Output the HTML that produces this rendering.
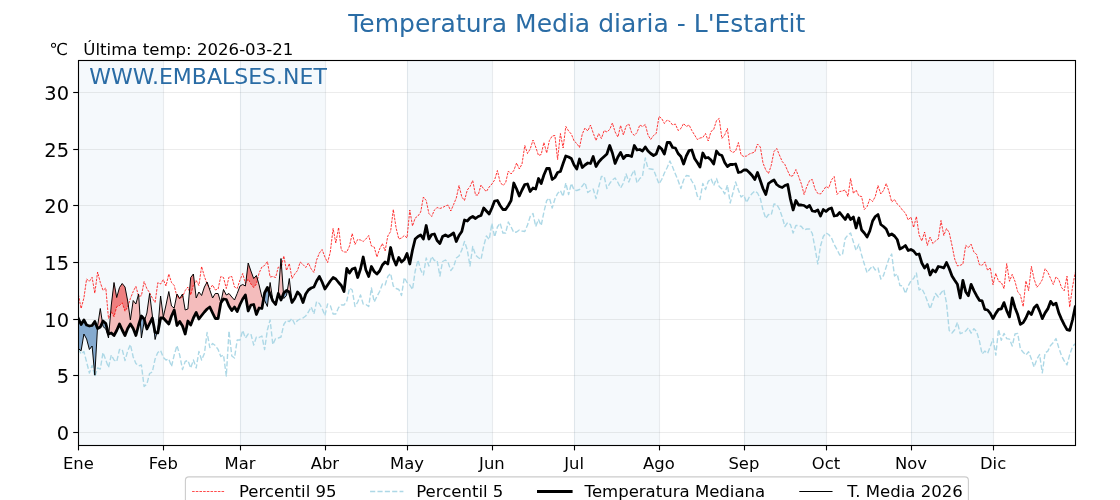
<!DOCTYPE html>
<html lang="es"><head><meta charset="utf-8"><title>Temperatura Media diaria - L'Estartit</title>
<style>html,body{margin:0;padding:0;background:#fff;}body{width:1120px;height:500px;overflow:hidden;}svg{display:block;}</style>
</head><body>
<svg width="1120" height="500" viewBox="0 0 1120 500" font-family="'DejaVu Sans', 'Liberation Sans', sans-serif">
<rect x="0" y="0" width="1120" height="500" fill="#ffffff"/>
<defs><clipPath id="ax"><rect x="78.4" y="60.0" width="996.8000000000001" height="385.0"/></clipPath></defs>
<g clip-path="url(#ax)">
<rect x="78.00" y="60.0" width="85.00" height="385.0" fill="#f5f9fc"/>
<rect x="240.00" y="60.0" width="85.00" height="385.0" fill="#f5f9fc"/>
<rect x="407.00" y="60.0" width="85.00" height="385.0" fill="#f5f9fc"/>
<rect x="574.00" y="60.0" width="85.00" height="385.0" fill="#f5f9fc"/>
<rect x="744.00" y="60.0" width="82.00" height="385.0" fill="#f5f9fc"/>
<rect x="911.00" y="60.0" width="82.00" height="385.0" fill="#f5f9fc"/>
<line x1="163.50" y1="60.0" x2="163.50" y2="445.0" stroke="rgba(110,130,150,0.16)" stroke-width="1.05"/>
<line x1="240.50" y1="60.0" x2="240.50" y2="445.0" stroke="rgba(110,130,150,0.16)" stroke-width="1.05"/>
<line x1="325.50" y1="60.0" x2="325.50" y2="445.0" stroke="rgba(110,130,150,0.16)" stroke-width="1.05"/>
<line x1="407.50" y1="60.0" x2="407.50" y2="445.0" stroke="rgba(110,130,150,0.16)" stroke-width="1.05"/>
<line x1="492.50" y1="60.0" x2="492.50" y2="445.0" stroke="rgba(110,130,150,0.16)" stroke-width="1.05"/>
<line x1="574.50" y1="60.0" x2="574.50" y2="445.0" stroke="rgba(110,130,150,0.16)" stroke-width="1.05"/>
<line x1="659.50" y1="60.0" x2="659.50" y2="445.0" stroke="rgba(110,130,150,0.16)" stroke-width="1.05"/>
<line x1="744.50" y1="60.0" x2="744.50" y2="445.0" stroke="rgba(110,130,150,0.16)" stroke-width="1.05"/>
<line x1="826.50" y1="60.0" x2="826.50" y2="445.0" stroke="rgba(110,130,150,0.16)" stroke-width="1.05"/>
<line x1="911.50" y1="60.0" x2="911.50" y2="445.0" stroke="rgba(110,130,150,0.16)" stroke-width="1.05"/>
<line x1="993.50" y1="60.0" x2="993.50" y2="445.0" stroke="rgba(110,130,150,0.16)" stroke-width="1.05"/>
<line x1="78.4" y1="432.50" x2="1075.2" y2="432.50" stroke="rgba(128,128,128,0.15)" stroke-width="1.05"/>
<line x1="78.4" y1="375.50" x2="1075.2" y2="375.50" stroke="rgba(128,128,128,0.15)" stroke-width="1.05"/>
<line x1="78.4" y1="319.50" x2="1075.2" y2="319.50" stroke="rgba(128,128,128,0.15)" stroke-width="1.05"/>
<line x1="78.4" y1="262.50" x2="1075.2" y2="262.50" stroke="rgba(128,128,128,0.15)" stroke-width="1.05"/>
<line x1="78.4" y1="205.50" x2="1075.2" y2="205.50" stroke="rgba(128,128,128,0.15)" stroke-width="1.05"/>
<line x1="78.4" y1="149.50" x2="1075.2" y2="149.50" stroke="rgba(128,128,128,0.15)" stroke-width="1.05"/>
<line x1="78.4" y1="92.50" x2="1075.2" y2="92.50" stroke="rgba(128,128,128,0.15)" stroke-width="1.05"/>
<polygon points="97.4,328.2 97.6,326.0 100.3,308.5 102.4,322.4 102.4,322.4 100.3,327.0 97.6,328.5 97.4,328.2" fill="#f4bcbc"/>
<polygon points="108.9,333.9 111.3,305.0 114.0,282.5 116.7,297.5 119.5,287.5 122.2,283.5 125.0,287.0 127.7,301.0 130.4,320.0 133.2,300.5 135.9,304.0 138.6,294.0 140.2,319.7 140.2,319.7 138.6,325.0 135.9,335.5 133.2,328.5 130.4,324.0 127.7,328.5 125.0,335.5 122.2,330.0 119.5,324.0 116.7,330.5 114.0,335.5 111.3,333.0 108.9,333.9" fill="#f4bcbc"/>
<polygon points="144.6,320.6 146.9,313.0 149.6,293.5 152.3,315.0 153.2,322.4 153.2,322.4 152.3,318.0 149.6,323.5 146.9,329.0 144.6,320.6" fill="#f4bcbc"/>
<polygon points="156.8,332.8 157.8,329.0 160.6,296.0 163.3,317.0 166.0,305.0 168.8,291.5 171.5,306.0 174.2,308.0 177.0,294.0 179.7,298.5 182.5,294.0 185.2,310.0 187.9,309.0 190.7,277.5 193.4,274.0 196.2,298.0 198.9,292.0 201.6,295.5 204.4,287.0 207.1,282.0 209.8,290.0 212.6,298.0 215.3,293.5 218.1,293.5 220.8,302.5 223.5,289.5 226.3,295.0 229.0,293.5 231.8,297.0 234.5,300.0 237.2,293.5 240.0,286.0 242.7,284.5 245.4,286.0 248.2,263.0 250.9,271.0 253.7,278.5 256.4,275.5 259.1,285.0 261.9,297.0 263.5,299.1 263.5,299.1 261.9,308.5 259.1,308.0 256.4,314.5 253.7,304.5 250.9,305.0 248.2,311.0 245.4,295.0 242.7,299.0 240.0,304.5 237.2,311.5 234.5,307.0 231.8,310.5 229.0,306.0 226.3,299.5 223.5,299.0 220.8,303.0 218.1,318.5 215.3,318.5 212.6,313.0 209.8,307.0 207.1,309.0 204.4,312.0 201.6,315.5 198.9,319.0 196.2,312.5 193.4,318.0 190.7,325.0 187.9,321.0 185.2,334.0 182.5,326.0 179.7,321.5 177.0,325.5 174.2,310.0 171.5,316.0 168.8,324.0 166.0,321.0 163.3,318.0 160.6,318.0 157.8,333.0 156.8,332.8" fill="#f4bcbc"/>
<polygon points="269.1,291.5 270.1,282.5 272.8,300.0 275.6,304.0 278.3,293.0 281.0,258.5 283.5,293.8 283.5,293.8 281.0,300.0 278.3,293.5 275.6,304.5 272.8,301.0 270.1,294.0 269.1,291.5" fill="#f4bcbc"/>
<polygon points="287.3,290.9 289.3,278.5 292.0,302.0 294.7,298.0 294.7,298.5 292.0,302.5 289.3,292.0 287.3,290.9" fill="#f4bcbc"/>
<polygon points="110.6,313.4 111.3,305.0 114.0,282.5 116.7,297.5 119.5,287.5 122.2,283.5 125.0,287.0 127.7,301.0 128.3,305.1 128.3,305.1 127.7,307.0 125.0,311.2 122.2,302.8 119.5,305.5 116.7,306.7 114.0,316.7 111.3,311.7 110.6,313.4" fill="#ee7f7f"/>
<polygon points="138.3,295.1 138.6,294.0 138.8,296.3 138.8,296.3 138.6,296.3 138.3,295.1" fill="#ee7f7f"/>
<polygon points="176.7,295.6 177.0,294.0 179.7,298.5 179.7,298.5 177.0,297.0 176.7,295.6" fill="#ee7f7f"/>
<polygon points="179.7,298.5 182.5,294.0 182.8,296.1 182.8,296.1 182.5,297.0 179.7,298.5" fill="#ee7f7f"/>
<polygon points="189.5,291.5 190.7,277.5 193.4,274.0 194.5,283.3 194.5,283.3 193.4,285.0 190.7,295.0 189.5,291.5" fill="#ee7f7f"/>
<polygon points="206.7,282.8 207.1,282.0 208.9,287.3 208.9,287.3 207.1,284.0 206.7,282.8" fill="#ee7f7f"/>
<polygon points="245.8,282.9 248.2,263.0 250.9,271.0 253.7,278.5 256.4,275.5 257.5,279.4 257.5,279.4 256.4,284.0 253.7,287.5 250.9,284.0 248.2,279.0 245.8,282.9" fill="#ee7f7f"/>
<polygon points="280.3,268.1 281.0,258.5 281.6,266.1 281.6,266.1 281.0,268.5 280.3,268.1" fill="#ee7f7f"/>
<polygon points="78.4,348.5 81.1,350.8 83.9,334.0 86.6,339.0 89.4,349.5 92.1,346.0 94.8,375.2 97.4,328.2 97.4,328.2 94.8,321.5 92.1,325.5 89.4,326.0 86.6,325.0 83.9,320.0 81.1,324.5 78.4,318.5" fill="#85aacf"/>
<polygon points="102.4,322.4 103.0,326.5 105.8,329.0 108.5,338.0 108.9,333.9 108.9,333.9 108.5,334.0 105.8,323.5 103.0,321.0 102.4,322.4" fill="#85aacf"/>
<polygon points="140.2,319.7 141.4,338.0 144.1,322.0 144.6,320.6 144.6,320.6 144.1,319.0 141.4,316.0 140.2,319.7" fill="#85aacf"/>
<polygon points="153.2,322.4 155.1,339.5 156.8,332.8 156.8,332.8 155.1,332.5 153.2,322.4" fill="#85aacf"/>
<polygon points="263.5,299.1 264.6,300.5 267.4,306.5 269.1,291.5 269.1,291.5 267.4,287.5 264.6,293.0 263.5,299.1" fill="#85aacf"/>
<polygon points="283.5,293.8 283.8,298.5 286.5,295.5 287.3,290.9 287.3,290.9 286.5,290.5 283.8,293.0 283.5,293.8" fill="#85aacf"/>

<polyline points="78.4,294.5 81.1,308.5 83.9,298.0 86.6,279.0 89.4,281.3 92.1,277.3 94.8,293.2 97.6,272.0 100.3,282.5 103.0,290.3 105.8,288.0 108.5,318.5 111.3,311.7 114.0,316.7 116.7,306.7 119.5,305.5 122.2,302.8 125.0,311.2 127.7,307.0 130.4,298.5 133.2,291.5 135.9,286.3 138.6,296.3 141.4,295.8 144.1,281.6 146.9,288.7 149.6,292.7 152.3,298.0 155.1,302.5 157.8,282.7 160.6,284.0 163.3,279.6 166.0,286.0 168.8,274.0 171.5,282.5 174.2,285.5 177.0,297.0 179.7,298.5 182.5,297.0 185.2,290.5 187.9,287.0 190.7,295.0 193.4,285.0 196.2,280.5 198.9,285.5 201.6,266.5 204.4,276.5 207.1,284.0 209.8,289.0 212.6,285.0 215.3,290.0 218.1,289.0 220.8,276.5 223.5,277.5 226.3,288.5 229.0,277.0 231.8,276.5 234.5,287.0 237.2,288.5 240.0,280.0 242.7,273.5 245.4,283.5 248.2,279.0 250.9,284.0 253.7,287.5 256.4,284.0 259.1,273.0 261.9,267.0 264.6,265.5 267.4,261.5 270.1,277.0 272.8,276.5 275.6,277.5 278.3,267.0 281.0,268.5 283.8,256.0 286.5,270.5 289.3,263.5 292.0,278.5 294.7,274.0 297.5,270.5 300.2,262.0 303.0,264.5 305.7,267.5 308.4,263.0 311.2,269.0 313.9,272.5 316.6,260.0 319.4,253.0 322.1,249.5 324.9,257.0 327.6,262.5 330.3,252.0 333.1,228.5 335.8,243.0 338.6,227.5 341.3,250.0 344.0,252.0 346.8,252.0 349.5,246.0 352.2,233.5 355.0,244.5 357.7,239.5 360.5,240.0 363.2,241.5 365.9,239.0 368.7,235.5 371.4,246.0 374.2,247.0 376.9,257.0 379.6,249.0 382.4,243.5 385.1,251.0 387.8,236.0 390.6,231.5 393.3,209.5 396.1,228.0 398.8,239.0 401.5,238.0 404.3,235.5 407.0,238.0 409.8,210.0 412.5,226.0 415.2,218.0 418.0,216.0 420.7,212.0 423.4,197.0 426.2,200.5 428.9,213.5 431.7,216.5 434.4,210.0 437.1,207.5 439.9,208.5 442.6,207.5 445.4,206.0 448.1,205.0 450.8,211.0 453.6,204.5 456.3,198.0 459.0,185.5 461.8,197.0 464.5,200.5 467.3,190.0 470.0,186.5 472.7,180.5 475.5,195.0 478.2,195.0 481.0,185.0 483.7,189.0 486.4,191.5 489.2,187.0 491.9,184.0 494.6,180.0 497.4,170.5 500.1,182.0 502.9,185.5 505.6,183.0 508.3,171.0 511.1,174.0 513.8,170.5 516.6,163.0 519.3,169.0 522.0,164.0 524.8,145.5 527.5,153.5 530.2,149.0 533.0,140.0 535.7,147.0 538.5,155.5 541.2,154.5 543.9,142.5 546.7,153.0 549.4,140.5 552.2,136.0 554.9,135.5 557.6,159.5 560.4,133.5 563.1,148.0 565.8,126.5 568.6,131.0 571.3,134.0 574.1,141.0 576.8,143.5 579.5,147.5 582.3,134.0 585.0,128.0 587.8,131.0 590.5,125.0 593.2,133.0 596.0,140.5 598.7,133.5 601.4,138.5 604.2,130.5 606.9,132.0 609.7,129.5 612.4,123.0 615.1,132.0 617.9,137.0 620.6,125.5 623.4,135.0 626.1,126.0 628.8,124.0 631.6,132.5 634.3,135.5 637.0,132.5 639.8,125.0 642.5,126.5 645.3,124.5 648.0,135.0 650.7,139.5 653.5,135.5 656.2,133.5 659.0,116.5 661.7,118.5 664.4,123.5 667.2,120.0 669.9,121.5 672.6,125.0 675.4,124.0 678.1,130.5 680.9,128.5 683.6,123.5 686.3,126.5 689.1,125.0 691.8,130.5 694.6,135.0 697.3,139.5 700.0,138.0 702.8,137.5 705.5,133.5 708.2,141.0 711.0,131.5 713.7,129.5 716.5,120.5 719.2,118.5 721.9,138.5 724.7,135.0 727.4,128.5 730.2,150.5 732.9,152.5 735.6,151.0 738.4,142.5 741.1,155.0 743.8,156.5 746.6,156.0 749.3,154.0 752.1,153.0 754.8,152.0 757.5,144.0 760.3,147.0 763.0,163.0 765.8,170.0 768.5,173.5 771.2,165.5 774.0,151.5 776.7,148.5 779.4,155.0 782.2,161.5 784.9,164.5 787.7,171.0 790.4,176.5 793.1,175.5 795.9,169.5 798.6,176.5 801.4,184.0 804.1,194.5 806.8,186.5 809.6,180.5 812.3,179.5 815.0,189.0 817.8,193.5 820.5,194.0 823.3,190.5 826.0,186.5 828.7,188.0 831.5,180.0 834.2,176.5 837.0,194.5 839.7,191.5 842.4,191.0 845.2,190.0 847.9,196.5 850.6,178.5 853.4,193.5 856.1,190.0 858.9,196.0 861.6,196.5 864.3,209.5 867.1,206.5 869.8,199.0 872.6,201.5 875.3,196.5 878.0,185.5 880.8,194.0 883.5,190.5 886.2,183.5 889.0,191.5 891.7,202.0 894.5,199.5 897.2,204.0 899.9,206.5 902.7,210.5 905.4,213.0 908.2,220.0 910.9,217.0 913.6,227.5 916.4,216.5 919.1,235.0 921.8,241.0 924.6,232.0 927.3,245.5 930.1,237.0 932.8,243.5 935.5,241.0 938.3,239.0 941.0,220.5 943.8,235.5 946.5,228.5 949.2,232.5 952.0,245.5 954.7,259.0 957.4,265.9 960.2,265.3 962.9,264.1 965.7,245.3 968.4,247.6 971.1,244.1 973.9,252.1 976.6,254.4 979.4,264.7 982.1,265.3 984.8,261.9 987.6,270.4 990.3,267.6 993.0,284.7 995.8,273.3 998.5,281.3 1001.3,282.4 1004.0,288.7 1006.7,263.6 1009.5,281.3 1012.2,274.4 1015.0,281.4 1017.7,291.7 1020.4,295.1 1023.2,306.6 1025.9,280.9 1028.6,290.6 1031.4,266.4 1034.1,279.1 1036.9,287.3 1039.6,284.2 1042.3,279.7 1045.1,268.7 1047.8,272.1 1050.6,278.5 1053.3,284.5 1056.0,276.8 1058.8,279.7 1061.5,287.4 1064.2,290.8 1067.0,276.2 1069.7,307.1 1072.5,287.1 1075.2,272.5" fill="none" stroke="#ff0000" stroke-width="0.78" stroke-dasharray="2.57 1.11" stroke-linejoin="round"/>
<polyline points="78.4,349.0 81.1,354.0 83.9,351.5 86.6,362.0 89.4,373.0 92.1,365.5 94.8,376.5 97.6,368.0 100.3,369.0 103.0,352.5 105.8,360.0 108.5,367.5 111.3,355.0 114.0,360.0 116.7,361.5 119.5,349.5 122.2,349.5 125.0,360.5 127.7,351.0 130.4,344.5 133.2,357.0 135.9,363.5 138.6,366.0 141.4,365.0 144.1,386.5 146.9,384.0 149.6,373.5 152.3,372.0 155.1,359.0 157.8,352.5 160.6,350.5 163.3,357.5 166.0,360.0 168.8,359.0 171.5,366.5 174.2,355.0 177.0,345.5 179.7,355.0 182.5,369.5 185.2,361.5 187.9,360.5 190.7,368.0 193.4,360.0 196.2,368.0 198.9,351.5 201.6,360.0 204.4,353.5 207.1,332.5 209.8,347.5 212.6,343.5 215.3,345.5 218.1,349.5 220.8,356.5 223.5,355.0 226.3,376.0 229.0,331.0 231.8,356.0 234.5,358.0 237.2,340.0 240.0,340.0 242.7,330.5 245.4,338.0 248.2,334.0 250.9,334.0 253.7,345.0 256.4,337.0 259.1,337.5 261.9,336.0 264.6,349.5 267.4,330.0 270.1,320.0 272.8,344.5 275.6,338.5 278.3,338.0 281.0,337.0 283.8,324.5 286.5,320.5 289.3,321.5 292.0,318.5 294.7,324.0 297.5,320.5 300.2,319.0 303.0,318.0 305.7,316.0 308.4,312.0 311.2,307.0 313.9,314.0 316.6,301.5 319.4,303.5 322.1,308.5 324.9,315.5 327.6,304.0 330.3,305.5 333.1,314.0 335.8,314.0 338.6,307.5 341.3,305.0 344.0,305.0 346.8,301.0 349.5,288.0 352.2,290.0 355.0,306.5 357.7,302.0 360.5,295.0 363.2,304.0 365.9,304.5 368.7,306.5 371.4,288.0 374.2,302.0 376.9,296.5 379.6,291.5 382.4,284.0 385.1,285.0 387.8,276.5 390.6,273.5 393.3,286.0 396.1,288.5 398.8,289.5 401.5,295.5 404.3,277.5 407.0,282.5 409.8,285.0 412.5,289.5 415.2,271.0 418.0,260.0 420.7,270.0 423.4,275.0 426.2,258.0 428.9,266.0 431.7,256.5 434.4,260.5 437.1,260.5 439.9,276.0 442.6,261.5 445.4,260.0 448.1,262.5 450.8,270.5 453.6,267.0 456.3,258.0 459.0,256.0 461.8,250.0 464.5,241.5 467.3,250.0 470.0,266.0 472.7,246.5 475.5,255.0 478.2,257.5 481.0,259.5 483.7,246.0 486.4,236.0 489.2,239.5 491.9,223.5 494.6,237.0 497.4,227.0 500.1,223.0 502.9,233.0 505.6,233.0 508.3,222.0 511.1,227.0 513.8,232.5 516.6,232.0 519.3,230.0 522.0,231.0 524.8,231.5 527.5,225.0 530.2,216.5 533.0,213.5 535.7,226.5 538.5,219.5 541.2,225.5 543.9,212.0 546.7,200.5 549.4,198.0 552.2,208.0 554.9,199.0 557.6,193.5 560.4,190.5 563.1,196.5 565.8,183.0 568.6,194.5 571.3,183.5 574.1,190.0 576.8,190.5 579.5,189.5 582.3,186.0 585.0,182.5 587.8,192.5 590.5,190.5 593.2,189.0 596.0,198.5 598.7,187.0 601.4,176.5 604.2,176.5 606.9,188.5 609.7,183.5 612.4,180.0 615.1,178.0 617.9,182.5 620.6,188.0 623.4,183.0 626.1,174.0 628.8,182.0 631.6,175.0 634.3,170.0 637.0,183.0 639.8,178.5 642.5,176.0 645.3,158.0 648.0,168.5 650.7,169.0 653.5,169.5 656.2,176.5 659.0,184.0 661.7,179.5 664.4,173.0 667.2,167.5 669.9,161.0 672.6,167.0 675.4,174.0 678.1,180.5 680.9,188.5 683.6,180.0 686.3,175.5 689.1,176.0 691.8,181.0 694.6,185.5 697.3,196.0 700.0,199.5 702.8,183.5 705.5,189.5 708.2,181.5 711.0,178.5 713.7,185.5 716.5,178.5 719.2,186.5 721.9,189.0 724.7,194.0 727.4,185.0 730.2,203.0 732.9,193.0 735.6,182.0 738.4,190.0 741.1,197.0 743.8,195.0 746.6,202.5 749.3,197.0 752.1,193.5 754.8,191.0 757.5,193.0 760.3,198.5 763.0,210.0 765.8,218.5 768.5,214.5 771.2,215.0 774.0,204.0 776.7,204.5 779.4,209.0 782.2,217.0 784.9,226.5 787.7,222.5 790.4,224.5 793.1,233.0 795.9,225.5 798.6,225.5 801.4,226.5 804.1,230.0 806.8,229.0 809.6,229.0 812.3,233.5 815.0,248.0 817.8,264.0 820.5,246.0 823.3,236.5 826.0,233.0 828.7,234.5 831.5,238.0 834.2,244.5 837.0,249.5 839.7,255.0 842.4,255.0 845.2,238.5 847.9,235.0 850.6,233.0 853.4,242.0 856.1,250.5 858.9,244.2 861.6,255.0 864.3,264.0 867.1,272.8 869.8,269.0 872.6,266.0 875.3,270.0 878.0,268.0 880.8,279.0 883.5,275.5 886.2,267.0 889.0,258.5 891.7,254.0 894.5,276.0 897.2,274.0 899.9,285.5 902.7,286.0 905.4,293.5 908.2,286.0 910.9,281.0 913.6,278.5 916.4,273.0 919.1,290.0 921.8,288.5 924.6,294.0 927.3,301.0 930.1,309.0 932.8,301.0 935.5,293.5 938.3,297.0 941.0,293.0 943.8,289.5 946.5,303.0 949.2,330.5 952.0,333.0 954.7,329.7 957.4,322.3 960.2,333.7 962.9,332.7 965.7,331.0 968.4,327.8 971.1,333.2 973.9,328.7 976.6,331.6 979.4,340.9 982.1,354.0 984.8,351.1 987.6,353.4 990.3,346.6 993.0,338.6 995.8,355.1 998.5,329.4 1001.3,340.3 1004.0,333.4 1006.7,338.6 1009.5,339.1 1012.2,346.0 1015.0,334.0 1017.7,333.4 1020.4,348.9 1023.2,352.3 1025.9,355.1 1028.6,351.7 1031.4,359.1 1034.1,367.1 1036.9,359.1 1039.6,354.6 1042.3,372.9 1045.1,352.9 1047.8,351.1 1050.6,345.4 1053.3,342.6 1056.0,338.6 1058.8,347.7 1061.5,355.7 1064.2,360.9 1067.0,364.9 1069.7,354.6 1072.5,346.6 1075.2,343.7" fill="none" stroke="#add8e6" stroke-width="1.39" stroke-dasharray="5.14 2.22" stroke-linejoin="round"/>
<polyline points="78.4,318.5 81.1,324.5 83.9,320.0 86.6,325.0 89.4,326.0 92.1,325.5 94.8,321.5 97.6,328.5 100.3,327.0 103.0,321.0 105.8,323.5 108.5,334.0 111.3,333.0 114.0,335.5 116.7,330.5 119.5,324.0 122.2,330.0 125.0,335.5 127.7,328.5 130.4,324.0 133.2,328.5 135.9,335.5 138.6,325.0 141.4,316.0 144.1,319.0 146.9,329.0 149.6,323.5 152.3,318.0 155.1,332.5 157.8,333.0 160.6,318.0 163.3,318.0 166.0,321.0 168.8,324.0 171.5,316.0 174.2,310.0 177.0,325.5 179.7,321.5 182.5,326.0 185.2,334.0 187.9,321.0 190.7,325.0 193.4,318.0 196.2,312.5 198.9,319.0 201.6,315.5 204.4,312.0 207.1,309.0 209.8,307.0 212.6,313.0 215.3,318.5 218.1,318.5 220.8,303.0 223.5,299.0 226.3,299.5 229.0,306.0 231.8,310.5 234.5,307.0 237.2,311.5 240.0,304.5 242.7,299.0 245.4,295.0 248.2,311.0 250.9,305.0 253.7,304.5 256.4,314.5 259.1,308.0 261.9,308.5 264.6,293.0 267.4,287.5 270.1,294.0 272.8,301.0 275.6,304.5 278.3,293.5 281.0,300.0 283.8,293.0 286.5,290.5 289.3,292.0 292.0,302.5 294.7,298.5 297.5,292.0 300.2,295.0 303.0,302.5 305.7,294.0 308.4,290.0 311.2,288.0 313.9,287.0 316.6,281.0 319.4,276.5 322.1,282.0 324.9,289.0 327.6,285.0 330.3,281.0 333.1,277.5 335.8,279.0 338.6,282.5 341.3,285.5 344.0,291.5 346.8,268.5 349.5,273.0 352.2,269.0 355.0,268.0 357.7,277.5 360.5,269.0 363.2,257.0 365.9,270.0 368.7,276.5 371.4,266.5 374.2,271.5 376.9,274.0 379.6,271.0 382.4,265.0 385.1,262.0 387.8,264.0 390.6,247.5 393.3,258.5 396.1,265.0 398.8,257.5 401.5,262.0 404.3,259.5 407.0,253.5 409.8,264.0 412.5,250.0 415.2,239.0 418.0,236.5 420.7,235.0 423.4,239.0 426.2,225.5 428.9,239.0 431.7,234.5 434.4,234.0 437.1,240.5 439.9,243.5 442.6,236.5 445.4,235.0 448.1,236.5 450.8,235.0 453.6,233.0 456.3,241.5 459.0,235.5 461.8,231.5 464.5,220.0 467.3,221.0 470.0,218.0 472.7,216.5 475.5,218.5 478.2,216.5 481.0,215.5 483.7,208.0 486.4,211.0 489.2,214.0 491.9,208.0 494.6,201.0 497.4,200.5 500.1,205.5 502.9,209.5 505.6,209.5 508.3,205.5 511.1,200.5 513.8,183.0 516.6,189.0 519.3,196.0 522.0,190.0 524.8,184.5 527.5,184.0 530.2,191.5 533.0,188.0 535.7,189.0 538.5,178.5 541.2,183.5 543.9,175.0 546.7,168.5 549.4,168.5 552.2,179.5 554.9,177.5 557.6,172.5 560.4,171.5 563.1,163.5 565.8,156.0 568.6,157.0 571.3,158.5 574.1,165.0 576.8,169.0 579.5,159.0 582.3,167.5 585.0,165.0 587.8,163.0 590.5,163.5 593.2,156.5 596.0,166.5 598.7,162.0 601.4,159.0 604.2,156.5 606.9,154.0 609.7,145.5 612.4,153.0 615.1,163.5 617.9,157.0 620.6,152.5 623.4,158.5 626.1,155.5 628.8,155.5 631.6,156.5 634.3,145.5 637.0,150.0 639.8,149.5 642.5,151.0 645.3,147.0 648.0,151.0 650.7,153.5 653.5,155.5 656.2,154.0 659.0,146.5 661.7,149.0 664.4,154.0 667.2,142.5 669.9,142.5 672.6,147.5 675.4,148.0 678.1,153.5 680.9,156.5 683.6,164.0 686.3,156.0 689.1,150.5 691.8,150.0 694.6,158.5 697.3,162.5 700.0,167.0 702.8,153.0 705.5,158.0 708.2,157.5 711.0,160.0 713.7,164.0 716.5,151.0 719.2,154.5 721.9,155.5 724.7,162.5 727.4,166.5 730.2,164.5 732.9,164.5 735.6,164.0 738.4,172.5 741.1,172.0 743.8,170.0 746.6,170.0 749.3,172.5 752.1,175.5 754.8,179.5 757.5,172.5 760.3,180.5 763.0,188.5 765.8,194.5 768.5,183.5 771.2,181.5 774.0,180.0 776.7,184.5 779.4,186.5 782.2,187.5 784.9,185.5 787.7,184.5 790.4,199.0 793.1,210.0 795.9,200.5 798.6,205.0 801.4,205.0 804.1,205.5 806.8,207.5 809.6,205.5 812.3,211.0 815.0,211.5 817.8,210.0 820.5,216.0 823.3,209.5 826.0,211.5 828.7,209.0 831.5,208.0 834.2,216.0 837.0,215.5 839.7,212.5 842.4,216.0 845.2,219.5 847.9,214.5 850.6,219.5 853.4,217.0 856.1,228.0 858.9,218.0 861.6,230.0 864.3,233.0 867.1,237.0 869.8,231.0 872.6,221.0 875.3,216.5 878.0,214.5 880.8,224.5 883.5,226.5 886.2,229.0 889.0,235.5 891.7,234.0 894.5,236.0 897.2,239.5 899.9,249.0 902.7,247.5 905.4,245.5 908.2,250.5 910.9,249.5 913.6,251.0 916.4,254.5 919.1,254.0 921.8,263.0 924.6,268.0 927.3,264.5 930.1,275.0 932.8,270.0 935.5,272.0 938.3,266.5 941.0,267.0 943.8,268.0 946.5,262.5 949.2,268.5 952.0,276.0 954.7,280.3 957.4,284.3 960.2,298.0 962.9,280.3 965.7,291.7 968.4,295.7 971.1,284.3 973.9,290.6 976.6,295.7 979.4,300.3 982.1,300.9 984.8,309.4 987.6,310.0 990.3,313.4 993.0,318.6 995.8,313.4 998.5,309.4 1001.3,308.9 1004.0,302.6 1006.7,310.6 1009.5,316.9 1012.2,298.0 1015.0,307.7 1017.7,314.6 1020.4,324.3 1023.2,322.6 1025.9,318.0 1028.6,311.7 1031.4,314.6 1034.1,307.7 1036.9,304.9 1039.6,311.1 1042.3,318.6 1045.1,312.9 1047.8,308.9 1050.6,301.4 1053.3,304.9 1056.0,303.1 1058.8,312.9 1061.5,319.1 1064.2,324.6 1067.0,329.6 1069.7,330.4 1072.5,320.0 1075.2,307.0" fill="none" stroke="#000000" stroke-width="2.78" stroke-linejoin="round" stroke-linecap="square"/>
<polyline points="78.4,348.5 81.1,350.8 83.9,334.0 86.6,339.0 89.4,349.5 92.1,346.0 94.8,375.2 97.6,326.0 100.3,308.5 103.0,326.5 105.8,329.0 108.5,338.0 111.3,305.0 114.0,282.5 116.7,297.5 119.5,287.5 122.2,283.5 125.0,287.0 127.7,301.0 130.4,320.0 133.2,300.5 135.9,304.0 138.6,294.0 141.4,338.0 144.1,322.0 146.9,313.0 149.6,293.5 152.3,315.0 155.1,339.5 157.8,329.0 160.6,296.0 163.3,317.0 166.0,305.0 168.8,291.5 171.5,306.0 174.2,308.0 177.0,294.0 179.7,298.5 182.5,294.0 185.2,310.0 187.9,309.0 190.7,277.5 193.4,274.0 196.2,298.0 198.9,292.0 201.6,295.5 204.4,287.0 207.1,282.0 209.8,290.0 212.6,298.0 215.3,293.5 218.1,293.5 220.8,302.5 223.5,289.5 226.3,295.0 229.0,293.5 231.8,297.0 234.5,300.0 237.2,293.5 240.0,286.0 242.7,284.5 245.4,286.0 248.2,263.0 250.9,271.0 253.7,278.5 256.4,275.5 259.1,285.0 261.9,297.0 264.6,300.5 267.4,306.5 270.1,282.5 272.8,300.0 275.6,304.0 278.3,293.0 281.0,258.5 283.8,298.5 286.5,295.5 289.3,278.5 292.0,302.0 294.7,298.0" fill="none" stroke="#000000" stroke-width="0.98" stroke-linejoin="round"/>
</g>
<rect x="78.5" y="60.5" width="997.0" height="385.0" fill="none" stroke="#000" stroke-width="1.11"/>
<line x1="78.50" y1="445.5" x2="78.50" y2="450.4" stroke="#000" stroke-width="1.11"/>
<text x="78.40" y="468.6" font-size="16.4" text-anchor="middle" fill="#000">Ene</text>
<line x1="163.50" y1="445.5" x2="163.50" y2="450.4" stroke="#000" stroke-width="1.11"/>
<text x="163.29" y="468.6" font-size="16.4" text-anchor="middle" fill="#000">Feb</text>
<line x1="240.50" y1="445.5" x2="240.50" y2="450.4" stroke="#000" stroke-width="1.11"/>
<text x="239.97" y="468.6" font-size="16.4" text-anchor="middle" fill="#000">Mar</text>
<line x1="325.50" y1="445.5" x2="325.50" y2="450.4" stroke="#000" stroke-width="1.11"/>
<text x="324.86" y="468.6" font-size="16.4" text-anchor="middle" fill="#000">Abr</text>
<line x1="407.50" y1="445.5" x2="407.50" y2="450.4" stroke="#000" stroke-width="1.11"/>
<text x="407.02" y="468.6" font-size="16.4" text-anchor="middle" fill="#000">May</text>
<line x1="492.50" y1="445.5" x2="492.50" y2="450.4" stroke="#000" stroke-width="1.11"/>
<text x="491.91" y="468.6" font-size="16.4" text-anchor="middle" fill="#000">Jun</text>
<line x1="574.50" y1="445.5" x2="574.50" y2="450.4" stroke="#000" stroke-width="1.11"/>
<text x="574.06" y="468.6" font-size="16.4" text-anchor="middle" fill="#000">Jul</text>
<line x1="659.50" y1="445.5" x2="659.50" y2="450.4" stroke="#000" stroke-width="1.11"/>
<text x="658.95" y="468.6" font-size="16.4" text-anchor="middle" fill="#000">Ago</text>
<line x1="744.50" y1="445.5" x2="744.50" y2="450.4" stroke="#000" stroke-width="1.11"/>
<text x="743.85" y="468.6" font-size="16.4" text-anchor="middle" fill="#000">Sep</text>
<line x1="826.50" y1="445.5" x2="826.50" y2="450.4" stroke="#000" stroke-width="1.11"/>
<text x="826.00" y="468.6" font-size="16.4" text-anchor="middle" fill="#000">Oct</text>
<line x1="911.50" y1="445.5" x2="911.50" y2="450.4" stroke="#000" stroke-width="1.11"/>
<text x="910.89" y="468.6" font-size="16.4" text-anchor="middle" fill="#000">Nov</text>
<line x1="993.50" y1="445.5" x2="993.50" y2="450.4" stroke="#000" stroke-width="1.11"/>
<text x="993.05" y="468.6" font-size="16.4" text-anchor="middle" fill="#000">Dic</text>
<line x1="73.20" y1="432.50" x2="78.9" y2="432.50" stroke="#000" stroke-width="1.11"/>
<text x="69.10" y="439.80" font-size="19.44" text-anchor="end" fill="#000">0</text>
<line x1="73.20" y1="375.50" x2="78.9" y2="375.50" stroke="#000" stroke-width="1.11"/>
<text x="69.10" y="383.15" font-size="19.44" text-anchor="end" fill="#000">5</text>
<line x1="73.20" y1="319.50" x2="78.9" y2="319.50" stroke="#000" stroke-width="1.11"/>
<text x="69.10" y="326.50" font-size="19.44" text-anchor="end" fill="#000">10</text>
<line x1="73.20" y1="262.50" x2="78.9" y2="262.50" stroke="#000" stroke-width="1.11"/>
<text x="69.10" y="269.85" font-size="19.44" text-anchor="end" fill="#000">15</text>
<line x1="73.20" y1="205.50" x2="78.9" y2="205.50" stroke="#000" stroke-width="1.11"/>
<text x="69.10" y="213.20" font-size="19.44" text-anchor="end" fill="#000">20</text>
<line x1="73.20" y1="149.50" x2="78.9" y2="149.50" stroke="#000" stroke-width="1.11"/>
<text x="69.10" y="156.55" font-size="19.44" text-anchor="end" fill="#000">25</text>
<line x1="73.20" y1="92.50" x2="78.9" y2="92.50" stroke="#000" stroke-width="1.11"/>
<text x="69.10" y="99.90" font-size="19.44" text-anchor="end" fill="#000">30</text>
<text x="576.8" y="31.6" font-size="25" text-anchor="middle" fill="#2a6ca5">Temperatura Media diaria - L'Estartit</text>
<text x="49.2" y="54.9" font-size="16.58" fill="#000">℃</text>
<text x="83.3" y="54.9" font-size="16.58" fill="#000">Última temp: 2026-03-21</text>
<text x="89.2" y="84" font-size="22.0" fill="#2a6ca5">WWW.EMBALSES.NET</text>
<rect x="185.4" y="476.9" width="783" height="40" rx="3.5" ry="3.5" fill="#ffffff" fill-opacity="0.8" stroke="#cccccc" stroke-width="1.1"/>
<line x1="192.1" y1="491.5" x2="224.9" y2="491.5" stroke="#ff0000" stroke-width="0.7" stroke-dasharray="2.57 1.11"/>
<text x="238.9" y="496.9" font-size="16.55" fill="#000">Percentil 95</text>
<line x1="370.1" y1="491.5" x2="403.4" y2="491.5" stroke="#add8e6" stroke-width="1.39" stroke-dasharray="5.14 2.22"/>
<text x="416.2" y="496.9" font-size="16.55" fill="#000">Percentil 5</text>
<line x1="538.4" y1="491.5" x2="571.2" y2="491.5" stroke="#000" stroke-width="2.78" stroke-linecap="square"/>
<text x="584.6" y="496.9" font-size="16.55" fill="#000">Temperatura Mediana</text>
<line x1="799.8" y1="491.5" x2="832.0" y2="491.5" stroke="#000" stroke-width="1.05" stroke-linecap="square"/>
<text x="847.2" y="496.9" font-size="16.55" fill="#000">T. Media 2026</text>
</svg>
</body></html>
